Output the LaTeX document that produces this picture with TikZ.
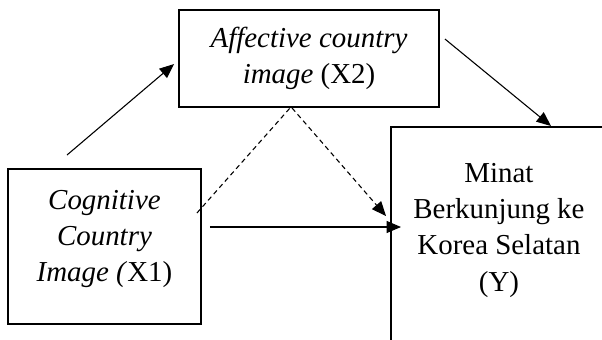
\documentclass[tikz,border=0pt]{standalone}
\usepackage{fontspec}
\setmainfont{Liberation Serif}
\usetikzlibrary{arrows.meta}

\begin{document}
\begin{tikzpicture}[x=0.415pt,y=-0.415pt,
  box/.style={draw,line width=0.8pt,rectangle,inner sep=0pt},
  txt/.style={align=center,inner sep=0pt,font=\fontsize{12}{15}\selectfont},
  arr/.style={line width=0.45pt,-{Triangle[length=6pt,width=5pt]}},
  dashln/.style={line width=0.45pt,dash pattern=on 2pt off 1.5pt}]

% Size of one pixel of the reference
\def\px{0.415pt}

\useasboundingbox (0,0) rectangle (602,339);
\clip (0,0) rectangle (602,339);

% Draw the variable boxes
\node[box,txt,minimum width=260*\px,minimum height=97*\px] (aff) at (309,58.5)
  {\textit{Affective country}\\\textit{image} (X2)};
\node[box,minimum width=193*\px,minimum height=155*\px,anchor=north west,
  label={[txt,anchor=north,yshift=-22*\px]north:{\textit{Cognitive}\\\textit{Country}\\\textit{Image (}X1)}}]
  (cog) at (7,168) {};
% The Y box runs off the page
\node[box,minimum width=216*\px,minimum height=260*\px,anchor=north west,
  label={[txt,anchor=north,yshift=-37*\px]north:{Minat\\Berkunjung ke\\Korea Selatan\\(Y)}}]
  (minat) at (390,126) {};

% Draw the relations
\draw[arr] ([shift={(60,-13)}]cog.north west) -- ([shift={(-4,55)}]aff.north west);
\draw[arr] ([shift={(5,30)}]aff.north east) -- ([shift={(161,0)}]minat.north west);
\draw[arr] ([shift={(8,59)}]cog.north east) -- ([shift={(11,101)}]minat.north west);
% Mediation path
\draw[dashln] ([shift={(-5,45)}]cog.north east) -- ([shift={(112,0)}]aff.south west);
\draw[dashln,arr] ([shift={(114,0)}]aff.south west) -- ([shift={(-4,90)}]minat.north west);

\end{tikzpicture}
\end{document}
